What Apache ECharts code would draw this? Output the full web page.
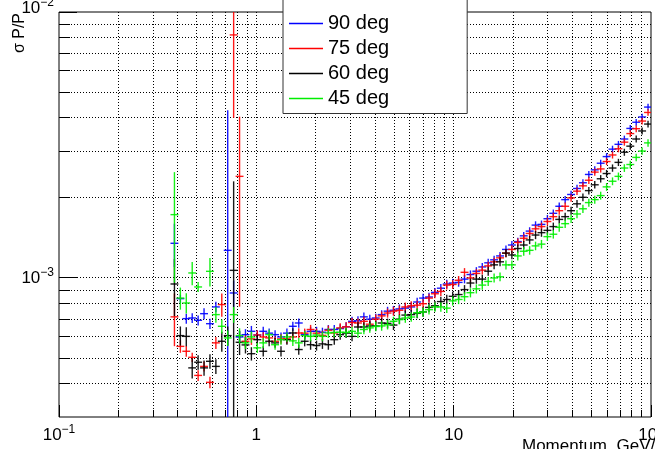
<!DOCTYPE html>
<html><head><meta charset="utf-8">
<script src="https://cdn.jsdelivr.net/npm/echarts@6/dist/echarts.min.js"></script>
<style>html,body{margin:0;padding:0;background:#fff}#c{width:655px;height:449px}</style>
</head><body><div id="c"></div>
<script>
// momentum bin centres (GeV/c), log bins of width 0.03 decades
const momentum = [0.3846,0.4121,0.4416,0.4732,0.5070,0.5433,0.5821,0.6237,0.6683,0.7161,0.7674,0.8222,0.8810,0.9441,1.0116,1.0839,1.1614,1.2445,1.3335,1.4289,1.5311,1.6406,1.7579,1.8836,2.0184,2.1627,2.3174,2.4831,2.6607,2.8510,3.0549,3.2734,3.5075,3.7584,4.0272,4.3152,4.6238,4.9545,5.3088,5.6885,6.0954,6.5313,6.9984,7.4989,8.0353,8.6099,9.2257,9.8855,10.593,11.350,12.162,13.032,13.964,14.962,16.032,17.179,18.408,19.724,21.135,22.646,24.266,26.002,27.861,29.854,31.989,34.277,36.728,39.355,42.170,45.186,48.417,51.880,55.590,59.566,63.826,68.391,73.282,78.524,84.140,90.157,96.605];
const binLogWidth = 0.03;

// sigma P/P in units of 1e-3
const sigma90 = [1.35,0.836,0.703,0.707,0.693,0.734,0.673,0.778,null,1.27,0.878,0.60,0.612,0.63,
 0.61,0.63,0.62,0.612,0.60,0.62,0.658,0.677,0.612,0.63,0.63,0.625,0.64,0.64,0.645,0.655,0.687,0.69,
 0.714,0.70,0.707,0.728,0.75,0.756,0.765,0.77,0.778,0.812,0.84,0.848,0.883,0.915,0.949,0.957,0.962,0.99,1.03,1.06,
 1.10,1.14,1.17,1.21,1.28,1.33,1.37,1.44,1.50,1.58,1.59,1.67,1.75,1.86,1.97,
 2.06,2.17,2.28,2.45,2.55,2.70,2.86,3.05,3.18,3.33,3.65,3.85,4.03,4.39];
const err90 = [0.25,0.03,0.03,0.03,0.03,0.035,0.03,0.035,null,3.0,0.1,0.03,0.03,0.03,
 0.025,0.025,0.025,0.024,0.024,0.025,0.026,0.027,0.024,0.025,0.025,0.025,0.025,0.025,0.025,0.026,0.027,0.027,
 0.027,0.027,0.027,0.028,0.029,0.029,0.03,0.03,0.03,0.031,0.032,0.032,0.033,0.034,0.035,0.035,0.035,0.036,0.037,0.038,
 0.039,0.04,0.041,0.042,0.044,0.046,0.047,0.049,0.051,0.053,0.054,0.056,0.058,0.061,0.064,
 0.066,0.069,0.072,0.076,0.079,0.083,0.087,0.092,0.095,0.099,0.107,0.112,0.116,0.125];

const sigma75 = [0.714,0.553,0.530,0.503,0.430,0.465,0.405,0.570,0.794,null,8.2,2.41,0.578,0.59,
 0.61,0.60,0.595,0.578,0.59,0.59,0.60,0.621,0.62,0.640,0.62,0.608,0.636,0.621,0.649,0.655,0.68,0.677,
 0.687,0.67,0.70,0.72,0.738,0.75,0.756,0.778,0.786,0.79,0.80,0.84,0.872,0.89,0.94,0.945,0.98,1.05,1.00,1.04,
 1.07,1.11,1.15,1.19,1.24,1.28,1.36,1.41,1.47,1.53,1.56,1.63,1.70,1.79,1.86,
 2.00,2.12,2.22,2.33,2.50,2.57,2.74,2.90,3.06,3.24,3.49,3.64,3.89,4.19];
const err75 = [0.16,0.03,0.025,0.02,0.02,0.02,0.02,0.03,0.08,null,4.2,1.63,0.03,0.03,
 0.025,0.025,0.025,0.024,0.024,0.024,0.025,0.026,0.025,0.026,0.025,0.025,0.026,0.025,0.026,0.026,0.027,0.027,
 0.027,0.027,0.028,0.028,0.029,0.029,0.03,0.03,0.031,0.031,0.032,0.033,0.034,0.034,0.035,0.036,0.037,0.039,0.038,0.039,
 0.04,0.041,0.042,0.043,0.044,0.046,0.048,0.049,0.051,0.052,0.054,0.056,0.058,0.06,0.062,
 0.065,0.068,0.071,0.074,0.078,0.08,0.084,0.088,0.092,0.097,0.103,0.107,0.112,0.12];

const sigma60 = [0.949,0.607,0.603,0.459,0.482,0.459,0.486,0.465,0.578,0.607,1.068,0.573,0.56,0.519,
 0.586,0.530,0.578,0.57,0.530,0.586,0.621,0.538,0.578,0.561,0.557,0.565,0.561,0.586,0.612,0.62,0.603,0.654,
 0.654,0.66,0.66,0.677,0.675,0.665,0.70,0.725,0.728,0.736,0.745,0.775,0.786,0.815,0.83,0.853,0.866,0.904,0.957,0.99,
 0.99,1.06,1.12,1.15,1.24,1.22,1.29,1.33,1.39,1.45,1.48,1.51,1.56,1.66,1.70,
 1.79,1.90,2.01,2.13,2.24,2.36,2.47,2.59,2.72,2.97,3.13,3.33,3.57,3.79];
const err60 = [0.23,0.05,0.05,0.04,0.03,0.03,0.03,0.03,0.05,0.05,1.24,0.06,0.04,0.03,
 0.025,0.024,0.025,0.024,0.023,0.025,0.026,0.024,0.025,0.024,0.024,0.024,0.024,0.025,0.026,0.026,0.025,0.027,
 0.027,0.027,0.027,0.028,0.028,0.028,0.029,0.03,0.03,0.03,0.031,0.032,0.033,0.034,0.034,0.035,0.035,0.036,0.038,0.039,
 0.039,0.041,0.042,0.043,0.045,0.045,0.047,0.048,0.05,0.051,0.052,0.053,0.055,0.058,0.059,
 0.061,0.064,0.067,0.07,0.073,0.076,0.079,0.082,0.085,0.091,0.095,0.1,0.105,0.11];

const sigma45 = [1.73,0.84,0.805,1.044,0.925,null,1.059,0.728,0.658,0.595,0.728,0.607,0.570,0.60,
 0.546,0.570,0.612,0.561,0.586,0.60,0.58,0.570,0.607,0.603,0.61,0.603,0.621,0.624,0.625,0.624,0.63,0.62,
 0.64,0.649,0.657,0.66,0.667,0.687,0.697,0.707,0.713,0.74,0.745,0.76,0.778,0.778,0.77,0.82,0.83,0.85,0.88,0.91,
 0.94,0.97,1.00,1.01,1.12,1.12,1.21,1.26,1.27,1.32,1.34,1.43,1.46,1.55,1.60,
 1.67,1.74,1.82,1.92,1.97,2.04,2.20,2.31,2.41,2.59,2.67,2.84,3.00,3.22];
const err45 = [0.77,0.08,0.07,0.105,0.04,null,0.13,0.05,0.04,0.04,0.05,0.04,0.03,0.03,
 0.024,0.025,0.026,0.024,0.025,0.025,0.025,0.024,0.025,0.025,0.025,0.025,0.026,0.026,0.026,0.026,0.026,0.026,
 0.026,0.027,0.027,0.027,0.027,0.028,0.028,0.029,0.029,0.03,0.03,0.031,0.031,0.031,0.031,0.033,0.033,0.034,0.035,0.036,
 0.037,0.038,0.039,0.039,0.043,0.043,0.046,0.047,0.047,0.049,0.05,0.053,0.054,0.057,0.058,
 0.06,0.062,0.064,0.067,0.068,0.07,0.075,0.078,0.081,0.086,0.088,0.093,0.097,0.103];

const seriesNames = ['90 deg','75 deg','60 deg','45 deg'];
const seriesColors = ['#0000ff','#ff0000','#000000','#00ee00'];

// axis ticks / grid (x in GeV/c, y in units of 1e-3)
const xMajorTicks = [0.1, 1, 10, 100];
const xMajorLabels = ['10^−1', '1', '10', '10^2'];
const xMinorTicks = [0.2,0.3,0.4,0.5,0.6,0.7,0.8,0.9,2,3,4,5,6,7,8,9,20,30,40,50,60,70,80,90];
const yMajorTicks = [1, 10];
const yMajorLabels = ['10^−3', '10^−2'];
const yMinorTicks = [0.4,0.5,0.6,0.7,0.8,0.9,2,3,4,5,6,7,8,9];
const xRange = [0.1, 100];
const yRange = [0.3, 10];

const FONT = '"Liberation Sans", Arial, Helvetica, sans-serif';
const rich = {
  b: {fontSize: 17, lineHeight: 20, fontFamily: FONT, color: '#000', verticalAlign: 'bottom'},
  s: {fontSize: 12, lineHeight: 12, fontFamily: FONT, color: '#000', verticalAlign: 'top'}
};
function richLabel(s) {
  const p = s.split('^');
  return p.length > 1 ? '{b|' + p[0] + '}{s|' + p[1] + '}' : '{b|' + p[0] + '}';
}
function crisp(v) { return Math.round(v - 0.5) + 0.5; }

function xTickRender(len, labels) {
  return function (params, api) {
    const cs = params.coordSys;
    const raw = api.coord([api.value(0), 1])[0];
    const x = crisp(raw);
    const top = cs.y, bottom = cs.y + cs.height;
    const ch = [];
    if (x > cs.x + 1.5 && x < cs.x + cs.width - 1.5) {
      ch.push({type: 'line', shape: {x1: x, y1: top, x2: x, y2: bottom},
        style: {stroke: '#000', lineWidth: 1, lineDash: [1, 2]}});
    }
    ch.push({type: 'line', shape: {x1: x, y1: bottom, x2: x, y2: bottom - len},
      style: {stroke: '#000', lineWidth: 1}});
    if (labels) {
      ch.push({type: 'text', x: raw, y: bottom + 16.5,
        style: {text: richLabel(labels[params.dataIndex]), rich: rich, align: 'center', verticalAlign: 'middle'}});
    }
    return {type: 'group', children: ch};
  };
}
function yTickRender(len, labels) {
  return function (params, api) {
    const cs = params.coordSys;
    const raw = api.coord([1, api.value(1)])[1];
    const y = crisp(raw);
    const left = cs.x, right = cs.x + cs.width;
    const ch = [];
    if (y > cs.y + 1.5 && y < cs.y + cs.height - 1.5) {
      ch.push({type: 'line', shape: {x1: left, y1: y, x2: right, y2: y},
        style: {stroke: '#000', lineWidth: 1, lineDash: [1, 2]}});
    }
    ch.push({type: 'line', shape: {x1: left, y1: y, x2: left + len, y2: y},
      style: {stroke: '#000', lineWidth: 1}});
    if (labels) {
      const ly = raw < cs.y + 3 ? raw - 5 : raw - 1;
      ch.push({type: 'text', x: left - 5, y: ly,
        style: {text: richLabel(labels[params.dataIndex]), rich: rich, align: 'right', verticalAlign: 'middle'}});
    }
    return {type: 'group', children: ch};
  };
}

function errSeries(idx, vals, errs) {
  const color = seriesColors[idx];
  const data = [];
  momentum.forEach(function (p, i) { if (vals[i] != null) data.push([p, vals[i], errs[i]]); });
  const half = Math.pow(10, binLogWidth / 2);
  return {
    type: 'custom', name: seriesNames[idx], coordinateSystem: 'cartesian2d',
    itemStyle: {color: color}, clip: true, silent: true, z: 3 + idx,
    encode: {x: 0, y: 1}, data: data,
    renderItem: function (params, api) {
      const cs = params.coordSys;
      const p = api.value(0), v = api.value(1), e = api.value(2);
      const c = api.coord([p, v]);
      const xl = api.coord([p / half, v])[0] - 1, xr = api.coord([p * half, v])[0] + 1;
      const yt = api.coord([p, v + e])[1];
      const lo = v - e;
      const yb = lo > yRange[0] ? api.coord([p, lo])[1] : cs.y + cs.height;
      const st = {stroke: color, lineWidth: 1.4, opacity: 0.9};
      return {type: 'group', children: [
        {type: 'line', shape: {x1: xl, y1: c[1], x2: xr, y2: c[1]}, style: st},
        {type: 'line', shape: {x1: c[0], y1: yt, x2: c[0], y2: yb}, style: st}
      ]};
    }
  };
}

const chart = echarts.init(document.getElementById('c'), null, {renderer: 'canvas'});
chart.setOption({
  animation: false,
  backgroundColor: '#fff',
  grid: {left: 59, right: 4, top: 12, bottom: 32, show: true, borderColor: '#000', borderWidth: 1, backgroundColor: 'transparent'},
  xAxis: {type: 'log', logBase: 10, min: xRange[0], max: xRange[1],
    axisLine: {show: false}, axisTick: {show: false}, axisLabel: {show: false}, splitLine: {show: false}, minorSplitLine: {show: false}},
  yAxis: {type: 'log', logBase: 10, min: yRange[0], max: yRange[1],
    axisLine: {show: false}, axisTick: {show: false}, axisLabel: {show: false}, splitLine: {show: false}},
  legend: {
    orient: 'vertical', left: 283, top: -2,
    data: seriesNames.map(function (n) { return {name: n, icon: 'rect'}; }),
    itemWidth: 34, itemHeight: 1.6, itemGap: 5, selectedMode: false,
    textStyle: {fontSize: 20, lineHeight: 20, color: '#000', fontFamily: FONT},
    padding: [15.5, 78, 5, 6],
    backgroundColor: '#fff', borderColor: '#333', borderWidth: 1, borderRadius: 0, z: 10
  },
  graphic: [
    {type: 'text', x: 20, y: 13, rotation: Math.PI / 2,
      style: {text: 'σ P/P', fontSize: 16, fontFamily: FONT, fill: '#000', align: 'right', verticalAlign: 'middle'}},
    {type: 'text', x: 522, y: 446,
      style: {text: 'Momentum, GeV/c', fontSize: 17, fontFamily: FONT, fill: '#000', align: 'left', verticalAlign: 'middle'}}
  ],
  series: [
    {type: 'custom', name: 'xminor', silent: true, z: 1, data: xMinorTicks.map(function (v) { return [v, 1]; }), renderItem: xTickRender(7, null)},
    {type: 'custom', name: 'xmajor', silent: true, z: 1, data: xMajorTicks.map(function (v) { return [v, 1]; }), renderItem: xTickRender(12, xMajorLabels)},
    {type: 'custom', name: 'yminor', silent: true, z: 1, data: yMinorTicks.map(function (v) { return [1, v]; }), renderItem: yTickRender(11, null)},
    {type: 'custom', name: 'ymajor', silent: true, z: 1, data: yMajorTicks.map(function (v) { return [1, v]; }), renderItem: yTickRender(18, yMajorLabels)},
    errSeries(0, sigma90, err90),
    errSeries(1, sigma75, err75),
    errSeries(2, sigma60, err60),
    errSeries(3, sigma45, err45)
  ]
});
</script>
</body></html>
